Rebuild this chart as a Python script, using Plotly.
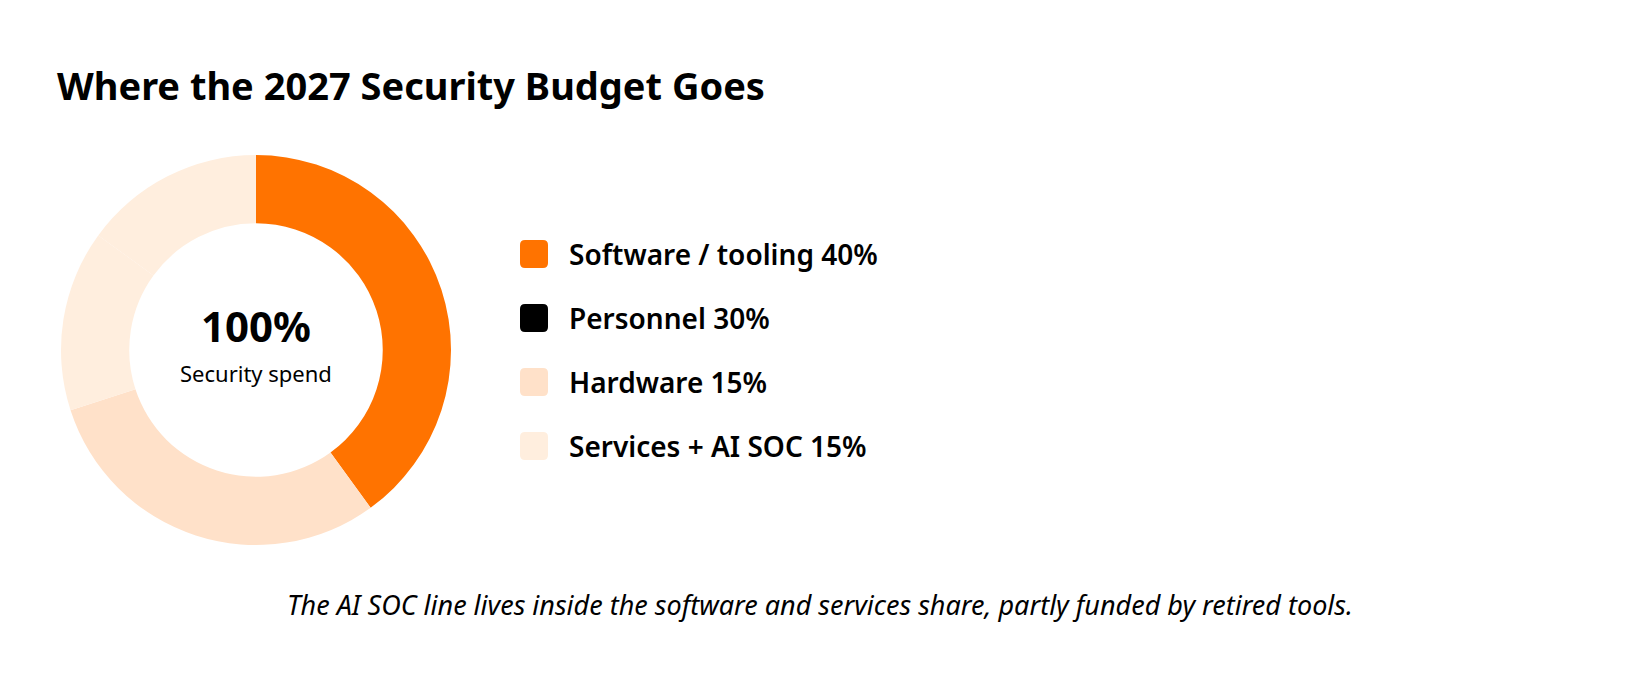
import plotly.graph_objects as go

W, H = 1640, 680

categories = ["Software / tooling", "Personnel", "Hardware", "Services + AI SOC"]
shares = [40, 30, 15, 15]
legend_colors = ["#FF7300", "#000000", "#FFE1C9", "#FFEEDE"]
donut_colors = ["#FF7300", "#FFE1C9", "#FFEEDE", "#FFEEDE"]

title_text = "Where the 2027 Security Budget Goes"
center_value = "100%"
center_label = "Security spend"
footnote = "The AI SOC line lives inside the software and services share, partly funded by retired tools."

FONT = "Noto Sans"

# donut geometry (pixels)
cx, cy, R = 256, 350, 195

def px(x):
    return x / W

def py(y):
    return 1 - y / H

fig = go.Figure()
fig.add_trace(go.Pie(
    labels=categories,
    values=shares,
    hole=0.65,
    sort=False,
    direction="clockwise",
    rotation=0,
    marker=dict(colors=donut_colors, line=dict(width=0)),
    textinfo="none",
    hoverinfo="label+percent",
    showlegend=False,
    domain=dict(x=[px(cx - R), px(cx + R)], y=[py(cy + R), py(cy - R)]),
))

annotations = [
    dict(text=f"<b>{title_text}</b>", x=px(55), y=py(85), xref="paper", yref="paper",
         xanchor="left", yanchor="middle", showarrow=False,
         font=dict(family=FONT, size=38, color="#000")),
    dict(text=f"<b>{center_value}</b>", x=px(cx), y=py(325), xref="paper", yref="paper",
         xanchor="center", yanchor="middle", showarrow=False,
         font=dict(family=FONT, size=42, color="#000")),
    dict(text=center_label, x=px(cx), y=py(373), xref="paper", yref="paper",
         xanchor="center", yanchor="middle", showarrow=False,
         font=dict(family=FONT, size=22, color="#000")),
    dict(text=f"<i>{footnote}</i>", x=0.5, y=py(604), xref="paper", yref="paper",
         xanchor="center", yanchor="middle", showarrow=False,
         font=dict(family=FONT, size=27, color="#000")),
]

shapes = []
leg_x0, sq, rr = 520, 28, 5
leg_y0, leg_dy = 254, 64
for i, (cat, val, col) in enumerate(zip(categories, shares, legend_colors)):
    yc = leg_y0 + i * leg_dy
    x0, x1 = leg_x0, leg_x0 + sq
    y0, y1 = yc - sq / 2, yc + sq / 2
    path = (
        f"M {px(x0 + rr)} {py(y0)} L {px(x1 - rr)} {py(y0)} "
        f"Q {px(x1)} {py(y0)} {px(x1)} {py(y0 + rr)} L {px(x1)} {py(y1 - rr)} "
        f"Q {px(x1)} {py(y1)} {px(x1 - rr)} {py(y1)} L {px(x0 + rr)} {py(y1)} "
        f"Q {px(x0)} {py(y1)} {px(x0)} {py(y1 - rr)} L {px(x0)} {py(y0 + rr)} "
        f"Q {px(x0)} {py(y0)} {px(x0 + rr)} {py(y0)} Z"
    )
    shapes.append(dict(type="path", path=path, xref="paper", yref="paper",
                       fillcolor=col, line=dict(width=0)))
    annotations.append(dict(text=f"{cat} {val}%", x=px(567), y=py(yc),
                            xref="paper", yref="paper", xanchor="left", yanchor="middle",
                            showarrow=False,
                            font=dict(family=FONT, size=28, color="#000", weight=600)))

fig.update_layout(
    width=W, height=H,
    margin=dict(l=0, r=0, t=0, b=0),
    paper_bgcolor="#fff", plot_bgcolor="#fff",
    annotations=annotations,
    shapes=shapes,
)

fig.write_html("out.html", config={"displayModeBar": False})
